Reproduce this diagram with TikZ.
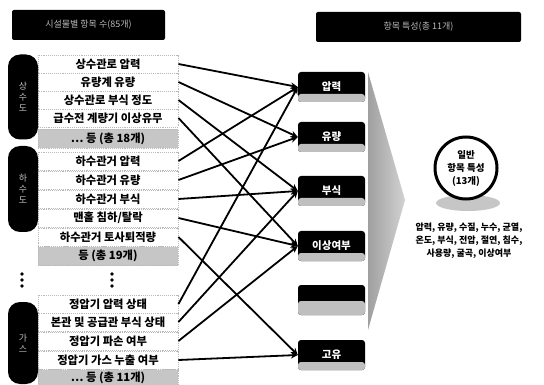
\documentclass[tikz,border=0pt]{standalone}
\usepackage{fontspec}
\setmainfont{Noto Sans CJK KR}
\usetikzlibrary{arrows.meta}
\tikzset{
  item/.style={draw=gray!55, densely dotted, line width=0.9pt, fill=white, minimum width=140pt, minimum height=18pt, inner sep=0pt, font=\bfseries\fontsize{11.3}{12}\selectfont},
  total/.style={item, fill=gray!45, minimum height=19pt},
  pill/.style={fill=black, rounded corners=12pt, minimum width=30pt, inner sep=0pt, text=gray!50, font=\fontsize{9}{11}\selectfont, align=center},
  cat/.style={fill=black, minimum width=67pt, minimum height=30pt, inner sep=0pt, rounded corners=3pt, text=white, font=\bfseries\fontsize{10.5}{12}\selectfont,
    path picture={\fill[gray!50] ([yshift=-1pt]path picture bounding box.south west) rectangle ([yshift=8pt]path picture bounding box.south east);}},
  catlow/.style={cat, path picture={\fill[gray!50] ([yshift=-1pt]path picture bounding box.south west) rectangle ([yshift=14pt]path picture bounding box.south east);}},
  hdr/.style={fill=black, rounded corners=2pt, inner sep=0pt, text=gray!55, font=\fontsize{9}{11}\selectfont},
  link/.style={line width=1.8pt, -{Stealth[length=7pt,width=6.5pt]}},
  vdot/.style={fill=black},
}
\begin{document}
\begin{tikzpicture}[x=1pt,y=-1pt]
\useasboundingbox (0,0) rectangle (544,385);
\fill[white] (0,0) rectangle (544,385);

% headers
\node[hdr, minimum width=153pt, minimum height=30pt] (h1) at (88.5,25) {시설물별 항목 수(85개)};
\node[hdr, minimum width=205pt, minimum height=30pt] (h2) at (418.5,27) {항목 특성(총 11개)};

% group 1
\node[item] (w1) at (108,64) {상수관로 압력};
\node[item] (w2) at (108,82) {유량계 유량};
\node[item] (w3) at (108,100) {상수관로 부식 정도};
\node[item] (w4) at (108,118) {급수전 계량기 이상유무};
\node[total] (wt) at (108,139) {… 등 (총 18개)};
% group 2
\node[item] (s1) at (108,161) {하수관거 압력};
\node[item] (s2) at (108,180) {하수관거 유량};
\node[item] (s3) at (108,199) {하수관거 부식};
\node[item] (s4) at (108,218) {맨홀 침하/탈락};
\node[item] (s5) at (108,237) {하수관거 토사퇴적량};
\node[total] (st) at (108,256) {등 (총 19개)};
% group 3
\node[item] (g1) at (108,304) {정압기 압력 상태};
\node[item] (g2) at (108,322) {본관 및 공급관 부식 상태};
\node[item] (g3) at (108,341) {정압기 파손 여부};
\node[item] (g4) at (108,360) {정압기 가스 누출 여부};
\node[total, minimum height=16pt] (gt) at (108,377.5) {… 등 (총 11개)};

% pills
\node[pill, minimum height=85pt] (p1) at (23,97) {상\\수\\도};
\node[pill, minimum height=86pt] (p2) at (23,189) {하\\수\\도};
\node[pill, minimum height=82pt] (p3) at (23,343) {가\\스};

% vertical dots
\foreach \yy in {274,280,286} {
  \fill[vdot] (22,\yy) circle (1.8pt);
  \fill[vdot] (112,\yy) circle (1.8pt);
}

% big arrow
\shade[left color=gray!75, right color=gray!35] (368,72) -- (405,200) -- (368,330) -- cycle;

% category boxes
\node[cat] (c1) at (331.5,87) {압력};
\node[cat] (c2) at (331.5,137) {유량};
\node[cat] (c3) at (331.5,191) {부식};
\node[cat] (c4) at (331.5,246) {이상여부};
\node[catlow] (c5) at (331.5,300) {};
\node[cat] (c6) at (331.5,355) {고유};

% links
\draw[link] (w1.east) -- (c1.west);
\draw[link] (w2.east) -- (c2.west);
\draw[link] (w3.east) -- (c3.west);
\draw[link] (w4.east) -- (c4.west);
\draw[link] (s1.east) -- (c1.west);
\draw[link] (s2.east) -- (c2.west);
\draw[link] (s3.east) -- (c3.west);
\draw[link] (s4.east) -- (c4.west);
\draw[link] (s5.east) -- (c6.west);
\draw[link] (g1.east) -- (c1.west);
\draw[link] (g2.east) -- (c3.west);
\draw[link] (g3.east) -- (c4.west);
\draw[link] (g4.east) -- (c6.west);

% circle
\fill[gray!45] (468,203) ellipse [x radius=32pt, y radius=8pt];
\node[circle, draw=black, line width=3pt, fill=white, minimum size=62pt, inner sep=0pt, align=center,
      font=\bfseries\fontsize{9.5}{13}\selectfont] (circ) at (466,168) {일반\\항목 특성\\(13개)};
\node[align=center, inner sep=0pt, font=\bfseries\fontsize{9}{13}\selectfont] (list) at (469,241)
  {압력, 유량, 수질, 누수, 균열,\\온도, 부식, 전압, 절연, 침수,\\사용량, 굴곡, 이상여부};
\end{tikzpicture}
\end{document}
